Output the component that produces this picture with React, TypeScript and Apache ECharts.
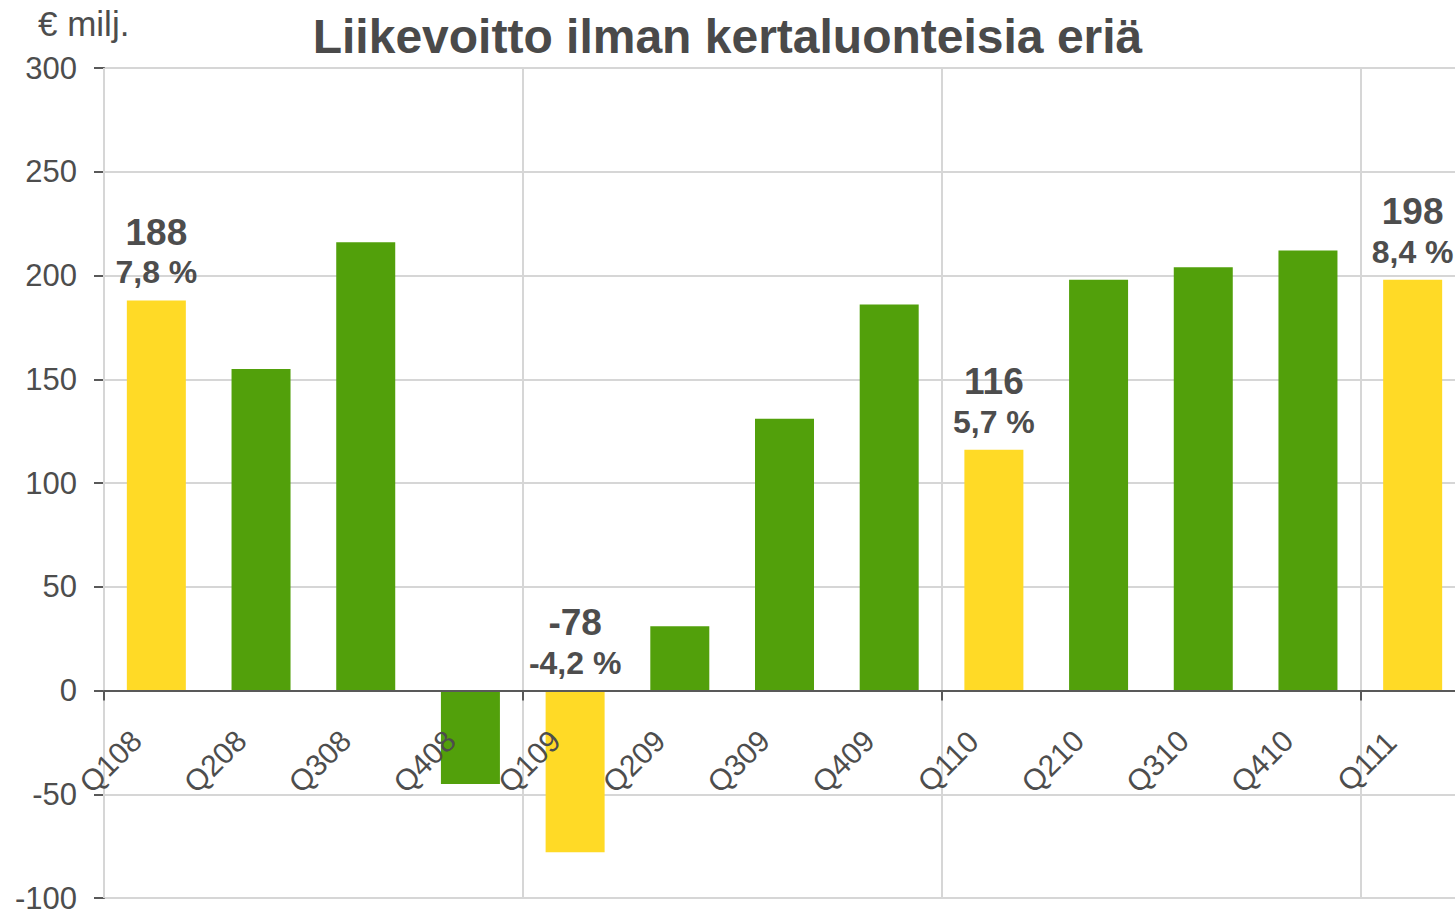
import React, { useEffect, useRef } from "react";
import * as echarts from "echarts";

const categories = ["Q108", "Q208", "Q308", "Q408", "Q109", "Q209", "Q309", "Q409", "Q110", "Q210", "Q310", "Q410", "Q111"];
const values = [188, 155, 216, -45, -78, 31, 131, 186, 116, 198, 204, 212, 198];
const marginLabels = ["7,8 %", "", "", "", "-4,2 %", "", "", "", "5,7 %", "", "", "", "8,4 %"];
const yTicks = { min: -100, max: 300, interval: 50 };
const titleText = "Liikevoitto ilman kertaluonteisia eriä";
const unitText = "€ milj.";

const FONT = "'Liberation Sans', Arial, sans-serif";
const TEXT = "#4d4d4d";
const AXIS = "#595959";
const GRID = "#d6d6d6";
const YELLOW = "#FFDA26";
const GREEN = "#52A00B";

const GRID_TOP = 68;
const GRID_HEIGHT = 830;

export default function App() {
  const ref = useRef<HTMLDivElement>(null);
  useEffect(() => {
    if (!ref.current) return;
    const chart = echarts.init(ref.current, undefined, { renderer: "svg" });
    const data = values.map((v, i) => ({
      value: v,
      itemStyle: { color: categories[i].startsWith("Q1") ? YELLOW : GREEN },
      label: { show: marginLabels[i] !== "" },
    }));
    // move the category axis (line, ticks, labels) up to the zero value
    const zeroOffset = -((0 - yTicks.min) / (yTicks.max - yTicks.min)) * GRID_HEIGHT;
    chart.setOption({
      animation: false,
      textStyle: { fontFamily: FONT },
      title: [
        {
          text: titleText,
          left: "center",
          top: 12,
          padding: 0,
          textStyle: { fontFamily: FONT, fontSize: 48, fontWeight: "bold", color: "#4a4a4a" },
        },
        {
          text: unitText,
          left: 38,
          top: 6,
          padding: 0,
          textStyle: { fontFamily: FONT, fontSize: 35, fontWeight: "normal", color: TEXT },
        },
      ],
      grid: {
        left: 104,
        top: GRID_TOP,
        width: 1361,
        height: GRID_HEIGHT,
        containLabel: false,
        outerBoundsMode: "none",
      },
      xAxis: {
        type: "category",
        data: categories,
        z: 3,
        offset: zeroOffset,
        axisLine: { onZero: false, lineStyle: { color: AXIS, width: 2 } },
        axisTick: { show: true, interval: 3, length: 10, lineStyle: { color: AXIS, width: 2 } },
        splitLine: { show: true, interval: 3, lineStyle: { color: GRID, width: 2 } },
        axisLabel: {
          interval: 0,
          rotate: 45,
          align: "center",
          verticalAlign: "middle",
          margin: 25,
          padding: [0, 130, 0, 0],
          fontFamily: FONT,
          fontSize: 30,
          color: TEXT,
        },
      },
      yAxis: {
        type: "value",
        min: yTicks.min,
        max: yTicks.max,
        interval: yTicks.interval,
        axisLine: { show: true, lineStyle: { color: AXIS, width: 2 } },
        axisTick: { show: true, length: 10, lineStyle: { color: AXIS, width: 2 } },
        splitLine: { show: true, lineStyle: { color: GRID, width: 2 } },
        axisLabel: { margin: 27, fontFamily: FONT, fontSize: 31, color: TEXT },
      },
      series: [
        {
          type: "bar",
          data,
          barWidth: 59,
          z: 2,
          label: {
            position: "top",
            distance: 9,
            formatter: (p: any) => `{a|${values[p.dataIndex]}}\n{b|${marginLabels[p.dataIndex]}}`,
            rich: {
              a: { fontFamily: FONT, fontSize: 37, fontWeight: "bold", color: TEXT, lineHeight: 42 },
              b: { fontFamily: FONT, fontSize: 32, fontWeight: "bold", color: TEXT, lineHeight: 38 },
            },
          },
        },
      ],
    });
    return () => chart.dispose();
  }, []);
  return (
    <div
      ref={ref}
      style={{ position: "fixed", left: 0, top: 0, width: 1455, height: 914, background: "#fff" }}
    />
  );
}
